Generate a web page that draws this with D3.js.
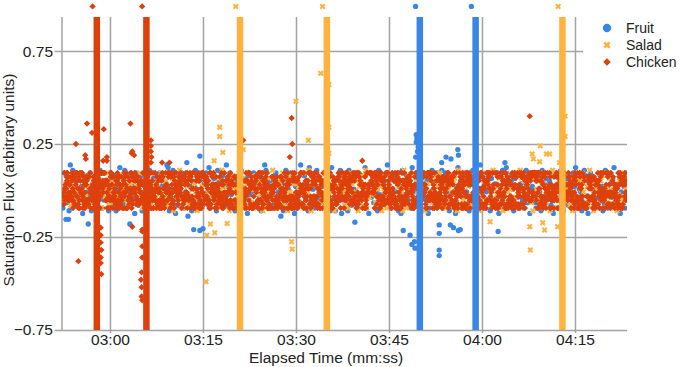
<!DOCTYPE html>
<html>
<head>
<meta charset="utf-8">
<script src="https://cdn.jsdelivr.net/npm/d3@7"></script>
<style>
	body { margin: 0; background: #fff; }
	text { font-family: Arial, "Liberation Sans", sans-serif; fill: #222; }
</style>
</head>
<body>
<div id="chart-area"></div>
<script>

// ---- data ----
let seriesNames = ["Fruit", "Salad", "Chicken"];

// recorded window (seconds) and sample offsets of each series
let timeStart = 172.4,
	timeEnd = 263.3;
let sampleOffset = [0, 0.07, 0.03];

// band readings, one letter per sample: a = -0.138 ... t = +0.138
let fruitBand = `
dqjfmcthrkeoigplbnepjhqcmkfgdoridgqjlcqhenpckmsiefrdojgqlhbqkenpcmdjfmrdhogk
pjqdlenftscpkrgbmeioqhdjgahlcnfrkpgdqemiqjsdhlokcrnfepgltejqidmcockhrnfogbpi
jdqmefohcoktrgdnliepqdjhamcfrhkoqgnbldietqjpgmcsfhkdorhgdnliqejpcsmhcfokrbgo
mhcroejkfqdngpilsdkbqhmfojcrieglnqtfhdkopjmcebrqinhgkdsljfepoqcmhgnbdjrkfiqe
gordkqjhcmfpeblsinkhqdjocfmrgeihktqpldjnfcokemgqbihrdjslpfnkcoehjqmgdirfkbpl
kfdpqjcrhmoginelbdqkhjrfcpmoeigdqlsnhkjcfrpdbmqogeikhnjlcfrqdpmhoskgeibjnldq`;

let saladBand = `
jgmkhoeilfnjqhdkgmiplejhnkfgoimdjlhqkegnjfmihpldkgjoehmnifkljgqhdmeipkjfnlgh
mdkqifhnelgjocpkhmrjdgfnlieqkhmjcogdlfpnikhejqmgdofkrilhnjcegpmkdhqfjolinegk
fplkdjnhqcgmeiokjrhdflnmgqeikcpjhdmognlfekqjhirdcmgpolkfnhjeqdgimkocflhpnjqe
kidoqmhfjnclgpekrdjhmiqofnkglcejpdhmqikfngolejcrhdmkpigqfnjlheodckmgqjfipnlh
qejgldnkhpfmoicrjkdgqhnlmefipokjcgdhnqlmfjerkgipodhcnlqjmkgfehpidrojnkmlgqfc
hoknjgdqmfelicprkjhdmgnoqfkljeicgpdhmnkqjfolerhgcmkidjnpqglfhokejdmcinqgphkl`;

// chicken readings, one digit per sample: 0 = -0.095 ... 9 = +0.095
let chickenBand = `
3141592653589793238462643383279502884197169399375105820974944592307816406286
2718281828459045235360287471352662497757247093699959574966967627724076630353
2089986280348253421170679821480865132823066470938446095505822317253594081284
5475945713821785251664274274663919320030599218174135966290435729003342952605
8111745028410270193852110555964462294895493038196442881097566593344612847564
9563073813232862794349076323382988075319525101901157383418793070215408914993
8233786783165271201909145648566923460348610454326648213393607260249141273724
4884167509244761460668082264800168477411853742345442437107539077744992069551
5870066063155881748815209209628292540917153643678925903600113305305488204665
7027618386062613313845830007520449338265602976067371132007093287091274437470
2138414695194151160943305727036575959195309218611738193261179310511854807446
4723069697720931014169283681902551510865746377211125238978442505695369677078
2379962749567351885752724891227938183011949129833673362440656643086021394946
5449969967946864454905987931636889230098793127736178215424999229576351482208
3952247371907021798609437027705392171762931767523846748184676694051320005681
2698951936680331825288693984964651058209392398294887933203625094431173012381
2714526356082778577134275778960917363717872146844090122495343014654958537105
9706841614039701983767932068328237646480429531180232878250981945581530175671
0792279689258923542019956112129021960864034418159813629774771309960518707211
7361332069811250996181881593041690351598888519345807273866738589422879228499
3499999983729780499510597317328160963185950244594553469083026425223082533446
8920868058257492796104841984443634632449684875602336248270419786232090021609
8503526193118817101000313783875288658753320838142061717766914730359825349042
9023530436994184914631409343173814364054625315209618369088870701676839642437`;

// isolated readings outside the band [time s, flux]
let fruitOutliers = [
	[229.4, 0.30], [229.5, 0.28], [229.7, 0.235], [229.3, 0.18], [229.6, 0.21], [229.4, 0.26],
	[236.1, 0.22], [236.2, 0.19], [234.2, 0.18], [235.0, 0.17], [243.7, 0.15], [233.5, 0.15],
	[194.5, 0.185], [192.4, 0.15], [228.7, -0.29], [229.1, -0.275], [229.2, -0.31],
	[227.3, -0.215], [228.4, -0.24], [233.1, -0.32], [233.1, -0.35], [233.1, -0.23],
	[233.1, -0.185], [234.9, -0.185], [235.4, -0.20], [236.2, -0.215], [242.6, -0.22],
	[219.5, -0.17], [193.5, -0.21], [194.5, -0.215], [173.3, -0.155], [176.5, -0.18],
	[183.2, -0.18], [172.9, -0.155], [195.0, -0.205], [236.5, -0.21]
];
let saladOutliers = [
	[197.7, 0.34], [197.7, 0.29], [198.2, 0.205], [196.8, 0.16], [210.0, 0.48], [214.0, 0.63],
	[215.3, 0.57], [212.0, 0.27], [215.3, 0.34], [215.3, 0.20], [249.4, 0.24], [250.4, 0.196],
	[250.9, 0.196], [248.1, 0.196], [249.3, 0.155], [252.5, 0.15], [253.4, 0.40], [253.4, 0.29],
	[248.3, 0.17], [195.6, -0.24], [196.2, -0.18], [196.9, -0.227], [195.5, -0.49],
	[209.3, -0.275], [209.4, -0.315], [198.9, -0.177], [247.7, -0.195], [247.8, -0.32],
	[250.1, -0.212], [249.8, -0.173], [252.2, -0.195], [241.3, -0.168], [201.5, 0.22]
];
let chickenOutliers = [
	[174.5, 0.25], [176.3, 0.36], [177.1, 0.31], [179.0, 0.33], [176.1, 0.17], [178.9, 0.16],
	[179.5, 0.16], [183.3, 0.36], [183.5, 0.20], [183.9, 0.19], [186.6, 0.27], [186.6, 0.24],
	[186.6, 0.21], [186.7, 0.18], [186.6, 0.15], [189.6, 0.15], [209.3, 0.39], [209.4, 0.25],
	[209.0, 0.18], [201.5, 0.27], [247.7, 0.40], [220.7, 0.16], [176.0, 0.19], [179.5, 0.18],
	[183.6, 0.21], [188.4, 0.15], [183.6, -0.195], [185.2, -0.21],
	[174.9, -0.38], [178.5, -0.20], [178.5, -0.24], [178.5, -0.28], [178.6, -0.32],
	[178.5, -0.36], [178.5, -0.39], [178.6, -0.45], [185.2, -0.22], [185.2, -0.30],
	[185.2, -0.36], [185.1, -0.44], [185.0, -0.48], [185.1, -0.52], [185.1, -0.57], [185.2, -0.59]
];

// saturation events: start time (s), the reading pins at the top
let fruitSaturated = [229.45, 238.45];
let saladSaturated = [200.45, 214.45, 252.45];
let chickenSaturated = [177.35, 185.35];
let saturationLevel = 0.99;
let saturationLength = 1.05;

let xTicks = [180, 195, 210, 225, 240, 255];
let yTicks = [-0.75, -0.25, 0.25, 0.75];

// ---- chart ----
let width = 680,
	height = 367;
let colors = ["#3a86e6", "#ffb23d", "#de400c"];

let svg = d3.select("#chart-area")
	.append("svg")
	.attr("width", width)
	.attr("height", height);

let x = d3.scaleLinear().domain([172.26, 263.39]).range([62, 627]);
let y = d3.scaleLinear().domain([-0.75, 0.933]).range([330, 17]);

// letters a..t or digits 0..9 -> flux
let bandLevel = c => /\d/.test(c)
	? (+c - 4.5) * 0.021
	: (c.charCodeAt(0) - 97 - 9.5) * 0.0145;
function decodeBand(str, offset) {
	let chars = str.replace(/\s/g, "").split("");
	let step = (timeEnd - timeStart) / (chars.length - 1);
	return chars.map((c, i) => [timeStart + i * step + offset, bandLevel(c)]);
}

let series = [
	{ band: fruitBand, outliers: fruitOutliers, saturated: fruitSaturated },
	{ band: saladBand, outliers: saladOutliers, saturated: saladSaturated },
	{ band: chickenBand, outliers: chickenOutliers, saturated: chickenSaturated }
].map((s, i) => ({
	name: seriesNames[i],
	color: colors[i],
	points: decodeBand(s.band, sampleOffset[i]).concat(s.outliers),
	saturated: s.saturated
}));

let fmt = d3.format("02");
let mmss = d => fmt(Math.floor(d / 60)) + ":" + fmt(Math.round(d % 60));

let gridColor = "#a3a3a3";

// grid + axes
let xAxis = d3.axisBottom(x)
	.tickValues(xTicks)
	.tickFormat(mmss)
	.tickSize(-(333 - 17))
	.tickPadding(1);
let xg = svg.append("g")
	.attr("transform", "translate(0,333)")
	.call(xAxis);

let yAxis = d3.axisLeft(y)
	.tickValues(yTicks)
	.tickFormat(d3.format(".2f"))
	.tickSize(-(627 - 54.5))
	.tickPadding(1.5);
let yg = svg.append("g")
	.attr("transform", "translate(54.5,0)")
	.call(yAxis);

[xg, yg].forEach(g => {
	g.select(".domain").remove();
	g.selectAll("line").attr("stroke", gridColor).attr("stroke-width", 1.5);
	g.selectAll("text").attr("font-size", 15.5).attr("fill", "#222");
});

svg.append("line")
	.attr("x1", 62).attr("x2", 62)
	.attr("y1", 17).attr("y2", 330)
	.attr("stroke", gridColor)
	.attr("stroke-width", 1.5);

// axis titles
svg.append("text")
	.text("Elapsed Time (mm:ss)")
	.attr("x", 326)
	.attr("y", 362.5)
	.attr("text-anchor", "middle")
	.attr("font-size", 15.5);
svg.append("text")
	.text("Saturation Flux (arbitrary units)")
	.attr("transform", "translate(14,180) rotate(-90)")
	.attr("text-anchor", "middle")
	.attr("font-size", 15.5);

// markers
let shapes = [
	d3.symbol().type(d3.symbolCircle).size(22),
	d3.symbol().type(d3.symbolCross).size(22),
	d3.symbol().type(d3.symbolSquare).size(20)
];
let rotation = [0, 45, 45];

svg.append("clipPath")
	.attr("id", "plot-clip")
	.append("rect")
	.attr("x", 62).attr("y", 0)
	.attr("width", 627 - 62).attr("height", 340);

let plot = svg.append("g").attr("clip-path", "url(#plot-clip)");

series.forEach((s, i) => {
	plot.append("g")
		.selectAll("path")
		.data(s.points)
		.enter()
		.append("path")
		.attr("d", shapes[i])
		.attr("transform", d => "translate(" + x(d[0]) + "," + y(d[1]) + ") rotate(" + rotation[i] + ")")
		.attr("fill", s.color);
});

// saturated stretches: full-height columns with the pinned reading on top
series.forEach((s, i) => {
	plot.append("g")
		.selectAll("rect")
		.data(s.saturated)
		.enter()
		.append("rect")
		.attr("x", d => x(d))
		.attr("width", d => x(d + saturationLength) - x(d))
		.attr("y", y(y.domain()[1]))
		.attr("height", y(-0.75) - y(y.domain()[1]))
		.attr("fill", s.color);

	plot.append("g")
		.selectAll("path")
		.data(s.saturated)
		.enter()
		.append("path")
		.attr("d", shapes[i])
		.attr("transform", d => "translate(" + (x(d) - 1) + "," + y(saturationLevel) + ") rotate(" + rotation[i] + ")")
		.attr("fill", s.color);
});

// legend
let legend = svg.append("g");
legend.append("rect")
	.attr("x", 583).attr("y", 15)
	.attr("width", 97).attr("height", 60)
	.attr("fill", "#fff");
let legendShapes = [
	d3.symbol().type(d3.symbolCircle).size(55),
	d3.symbol().type(d3.symbolCross).size(32),
	d3.symbol().type(d3.symbolSquare).size(28)
];
let item = legend.selectAll(".item")
	.data(series)
	.enter()
	.append("g")
	.attr("class", "item")
	.attr("transform", (d, i) => "translate(607," + (28 + i * 17) + ")");
item.append("path")
	.attr("d", (d, i) => legendShapes[i]())
	.attr("transform", (d, i) => "rotate(" + rotation[i] + ")")
	.attr("fill", d => d.color);
item.append("text")
	.text(d => d.name)
	.attr("x", 19)
	.attr("dy", "0.36em")
	.attr("font-size", 14);

</script>
</body>
</html>
